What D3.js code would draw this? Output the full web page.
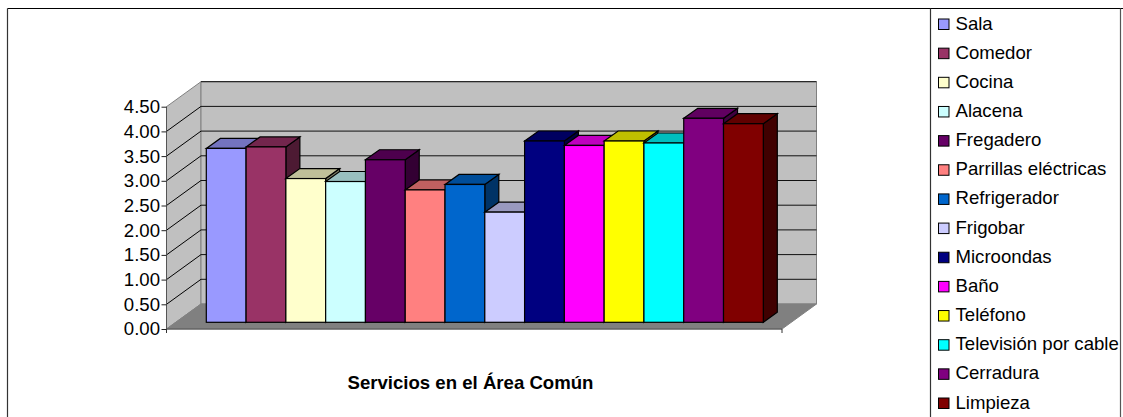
<!DOCTYPE html>
<html><head><meta charset="utf-8">
<script src="https://cdnjs.cloudflare.com/ajax/libs/d3/7.8.5/d3.min.js"></script>
<style>html,body{margin:0;padding:0;background:#fff}svg{display:block}text{font-family:"Liberation Sans",Arial,sans-serif;fill:#000}</style>
</head><body><svg id="c" width="1123" height="417"></svg>
<script>
const categories=["Sala","Comedor","Cocina","Alacena","Fregadero","Parrillas eléctricas","Refrigerador","Frigobar","Microondas","Baño","Teléfono","Televisión por cable","Cerradura","Limpieza"];
const values=[3.52,3.55,2.91,2.85,3.29,2.68,2.79,2.23,3.67,3.58,3.67,3.63,4.13,4.02];
const colors=["#9999FF","#993366","#FFFFCC","#CCFFFF","#660066","#FF8080","#0066CC","#CCCCFF","#000080","#FF00FF","#FFFF00","#00FFFF","#800080","#800000"];
const yTicks=[0,0.5,1,1.5,2,2.5,3,3.5,4,4.5];
const xAxisTitle="Servicios en el Área Común";

const svg=d3.select("#c");
const frontL=166.5,frontR=782,y0=329,yTop=106.7,depthX=34.5,depthY=25;
const y=d3.scaleLinear().domain([0,4.5]).range([y0,yTop]);
const barFloorOffset=6.7;
const barY=v=>y(v)-barFloorOffset;
const x=d3.scaleBand().domain(categories).range([206.3,763.3]).padding(0);
const barDX=14,barDY=10;

// frames
const line=(x1,y1,x2,y2,s,w)=>svg.append("line").attr("x1",x1).attr("y1",y1).attr("x2",x2).attr("y2",y2).attr("stroke",s).attr("stroke-width",w);
line(7.5,8.5,1123,8.5,"#000",1.2);
line(7.5,8.5,7.5,417,"#333",1.2);
line(930.5,8.5,930.5,417,"#333",1.2);
line(1120.5,8.5,1120.5,417,"#555",1.2);

// walls
const poly=(pts,f,s,w)=>svg.append("polygon").attr("points",pts.map(p=>p.join(",")).join(" ")).attr("fill",f).attr("stroke",s||"none").attr("stroke-width",w||0);
const ty=y(4.5);
poly([[frontL,y0],[frontL+depthX,y0-depthY],[frontL+depthX,ty-depthY],[frontL,ty]],"#C0C0C0","#808080",1);
poly([[frontL+depthX,y0-depthY],[frontR+depthX,y0-depthY],[frontR+depthX,ty-depthY],[frontL+depthX,ty-depthY]],"#C0C0C0","#808080",1);
poly([[frontL,y0],[frontL+depthX,y0-depthY],[frontR+depthX,y0-depthY],[frontR,y0]],"#808080","#808080",1);

// gridlines
yTicks.slice(1).forEach(t=>{
  if(t<4.5) line(frontL,y(t),frontL+depthX,y(t)-depthY,"#000",1);
  line(frontL+depthX,y(t)-depthY,frontR+depthX,y(t)-depthY,"#111",1);
});

// axes
const gy=svg.append("g").attr("transform",`translate(${frontL},0)`).call(d3.axisLeft(y).tickValues(yTicks).tickFormat(d3.format(".2f")).tickSize(5).tickPadding(1.5));
gy.selectAll("text").style("font-size","18.6px").attr("fill","#000");
gy.selectAll("line").attr("stroke","#222");
gy.select(".domain").attr("stroke","#555").attr("d",`M0,${y0}V${ty}`);
line(frontL,y0,frontR,y0,"#555",1.2);
line(frontL,y0,frontL,y0+4,"#333",1);
line(frontR,y0,frontR,y0+4,"#333",1);

// bars
const shade=(c,k)=>{const r=d3.rgb(c);return d3.rgb(r.r*k,r.g*k,r.b*k).formatHex();};
categories.forEach((c,i)=>{
  const l=x(c),r=l+x.bandwidth(),t=barY(values[i]),b=barY(0);
  const g=svg.append("g");
  g.append("polygon").attr("points",[[r,t],[r+barDX,t-barDY],[r+barDX,b-barDY],[r,b]].join(" ")).attr("fill",shade(colors[i],.5)).attr("stroke","#000").attr("stroke-width",1.2);
  g.append("polygon").attr("points",[[l,t],[l+barDX,t-barDY],[r+barDX,t-barDY],[r,t]].join(" ")).attr("fill",shade(colors[i],.75)).attr("stroke","#000").attr("stroke-width",1.2);
  g.append("rect").attr("x",l).attr("y",t).attr("width",x.bandwidth()).attr("height",b-t).attr("fill",colors[i]).attr("stroke","#000").attr("stroke-width",1.2);
});

// title
svg.append("text").attr("x",470.5).attr("y",389).attr("text-anchor","middle").style("font-size","18.6px").style("font-weight","bold").text(xAxisTitle);

// legend
const ly=d3.scalePoint().domain(categories).range([24,403]);
categories.forEach((c,i)=>{
  svg.append("rect").attr("x",938.5).attr("y",ly(c)-5).attr("width",10.5).attr("height",10.5).attr("fill",colors[i]).attr("stroke","#000").attr("stroke-width",1);
  svg.append("text").attr("x",955.5).attr("y",ly(c)+5.5).style("font-size","18.6px").text(c);
});
</script></body></html>
